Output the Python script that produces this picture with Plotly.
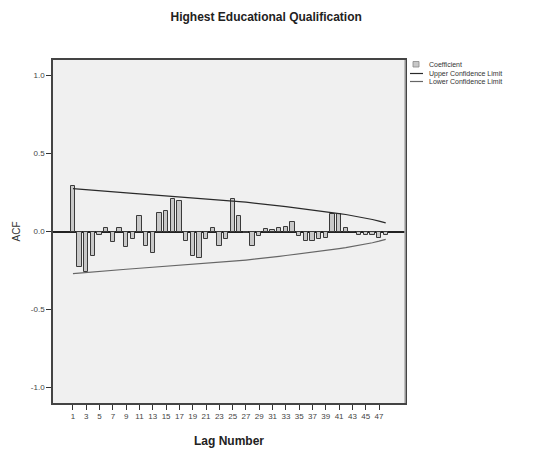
import plotly.graph_objects as go

lags = list(range(1, 49))
acf = [0.29, -0.225, -0.26, -0.16, -0.025, 0.02, -0.065, 0.02, -0.10, -0.05,
       0.10, -0.095, -0.14, 0.12, 0.13, 0.21, 0.195, -0.06, -0.16, -0.17,
       -0.05, 0.02, -0.09, -0.045, 0.21, 0.10, -0.01, -0.09, -0.03, 0.015,
       0.01, 0.025, 0.03, 0.06, -0.03, -0.06, -0.06, -0.05, -0.04, 0.11,
       0.115, 0.025, -0.005, -0.02, -0.02, -0.025, -0.04, -0.02]
upper = [0.275, 0.271, 0.268, 0.264, 0.261, 0.257, 0.254, 0.250, 0.247, 0.244,
         0.241, 0.238, 0.235, 0.232, 0.229, 0.226, 0.223, 0.220, 0.216, 0.213,
         0.210, 0.207, 0.203, 0.200, 0.196, 0.192, 0.188, 0.184, 0.179, 0.174,
         0.169, 0.164, 0.159, 0.154, 0.149, 0.144, 0.139, 0.133, 0.127, 0.122,
         0.115, 0.109, 0.102, 0.094, 0.086, 0.077, 0.067, 0.055]
lower = [-0.270, -0.266, -0.263, -0.259, -0.256, -0.252, -0.249, -0.245, -0.242, -0.239,
         -0.236, -0.233, -0.230, -0.227, -0.224, -0.221, -0.218, -0.215, -0.211, -0.208,
         -0.205, -0.202, -0.198, -0.195, -0.191, -0.187, -0.183, -0.179, -0.174, -0.169,
         -0.164, -0.159, -0.154, -0.149, -0.144, -0.139, -0.134, -0.128, -0.122, -0.117,
         -0.110, -0.104, -0.097, -0.089, -0.081, -0.072, -0.062, -0.050]
x_tick_vals = list(range(1, 48, 2))
y_tick_vals = [1.0, 0.5, 0.0, -0.5, -1.0]
y_tick_text = ["1.0", "0.5", "0.0", "-0.5", "-1.0"]
legend_labels = ["Coefficient", "Upper Confidence Limit", "Lower Confidence Limit"]

font_family = "Liberation Sans, Arial, sans-serif"
bar_fill = "#c8c8c8"
bar_edge = "#3a3a3a"
upper_color = "#2a2a2a"
lower_color = "#666666"

fig = go.Figure()
fig.add_trace(go.Bar(
    x=lags, y=acf, name=legend_labels[0], width=0.65,
    marker=dict(color=bar_fill, line=dict(color=bar_edge, width=1)),
))
fig.add_trace(go.Scatter(
    x=lags, y=upper, mode="lines", name=legend_labels[1],
    line=dict(color=upper_color, width=1.2),
))
fig.add_trace(go.Scatter(
    x=lags, y=lower, mode="lines", name=legend_labels[2],
    line=dict(color=lower_color, width=1.2),
))

# manual compact legend (paper coordinates relative to plot area)
def px_x(p):
    return (p - 53) / 352.0

def px_y(p):
    return (403 - p) / 343.0

shapes = [
    dict(type="rect", xref="paper", yref="paper",
         x0=px_x(413), x1=px_x(419), y0=px_y(67), y1=px_y(61.5),
         fillcolor=bar_fill, line=dict(color="#888888", width=0.8)),
    dict(type="line", xref="paper", yref="paper",
         x0=px_x(410), x1=px_x(423), y0=px_y(73.5), y1=px_y(73.5),
         line=dict(color=upper_color, width=1.2)),
    dict(type="line", xref="paper", yref="paper",
         x0=px_x(410), x1=px_x(423), y0=px_y(81.5), y1=px_y(81.5),
         line=dict(color=lower_color, width=1.2)),
    # lighter right border of plot area
    dict(type="line", xref="paper", yref="paper",
         x0=1, x1=1, y0=0, y1=1, line=dict(color="#b0b0b0", width=1.5)),
]
annotations = []
for lbl, yy in zip(legend_labels, [64.3, 73.5, 81.5]):
    annotations.append(dict(
        xref="paper", yref="paper", x=px_x(427), y=px_y(yy),
        xanchor="left", yanchor="middle", text=lbl, showarrow=False,
        font=dict(size=7, color="#333333", family=font_family)))

fig.update_layout(
    width=541, height=452,
    margin=dict(l=53, r=136, t=60, b=49),
    paper_bgcolor="white",
    plot_bgcolor="#f0f0f0",
    font=dict(family=font_family, size=9, color="#222222"),
    title=dict(text="<b>Highest Educational Qualification</b>", x=0.492, xanchor="center",
               y=0.962, yanchor="middle", font=dict(size=12, color="#222222")),
    showlegend=False,
    shapes=shapes,
    annotations=annotations,
    bargap=0,
)
fig.update_xaxes(
    range=[-2.0, 50.9], tickmode="array", tickvals=x_tick_vals,
    ticks="outside", ticklen=5, tickcolor="#333333",
    showgrid=False, zeroline=False, automargin=False,
    showline=True, linecolor="#444444", linewidth=1.5, mirror=True,
    tickfont=dict(size=8, color="#444444"),
    title=dict(text="<b>Lag Number</b>", font=dict(size=12), standoff=16),
)
fig.update_yaxes(
    range=[-1.1, 1.1], tickmode="array", tickvals=y_tick_vals, ticktext=y_tick_text,
    ticks="outside", ticklen=5, tickcolor="#333333",
    showgrid=False, zeroline=True, zerolinecolor="#222222", zerolinewidth=1.5,
    showline=True, linecolor="#444444", linewidth=1.5, mirror=True,
    tickfont=dict(size=8, color="#444444"),
    title=dict(text="ACF", font=dict(size=10, color="#333333"), standoff=8),
)

fig.write_html("out.html")
